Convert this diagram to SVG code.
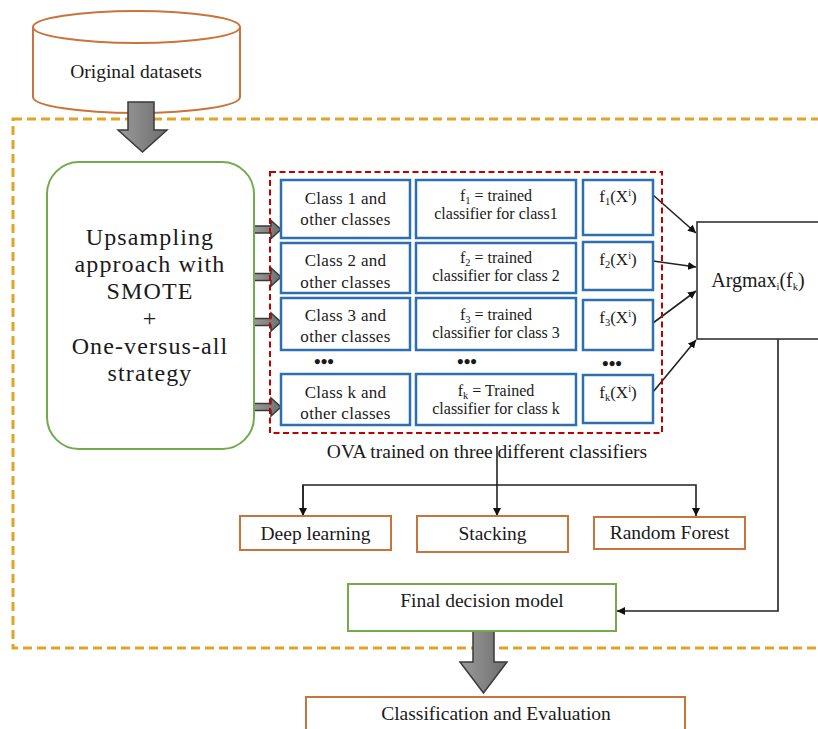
<svg xmlns="http://www.w3.org/2000/svg" width="818" height="729" viewBox="0 0 818 729" font-family="'Liberation Serif', 'Times New Roman', 'DejaVu Serif', serif">
<defs>
<linearGradient id="gray" x1="0" y1="0" x2="1" y2="0">
<stop offset="0" stop-color="#9a9a9a"/><stop offset="1" stop-color="#6e6e6e"/>
</linearGradient>
<marker id="ah" viewBox="0 0 10 10" refX="10" refY="5" markerWidth="8" markerHeight="8" markerUnits="userSpaceOnUse" orient="auto">
<path d="M0,0 L10,5 L0,10 z" fill="#111"/>
</marker>
<style>
text{fill:#1a1a1a;text-anchor:middle}
.blue{fill:#fff;stroke:#2e6fb0;stroke-width:2.5}
.orange{fill:#fff;stroke:#c8743c;stroke-width:2}
.green{fill:#fff;stroke:#74a94e;stroke-width:2}
.blk{fill:none;stroke:#222;stroke-width:1.6}
.garrow{fill:url(#gray);stroke:#3a3a3a;stroke-width:1.5}
.t15{font-size:17px;letter-spacing:0.3px}
.t16{font-size:16px}
.t17{font-size:17px}
.t18{font-size:19.5px}
.big{font-size:24px;letter-spacing:1.1px}
.sub{font-size:10.5px}
</style>
</defs>

<rect id="outer-region" x="13" y="119" width="830" height="529" fill="none" stroke="#e0a526" stroke-width="3" stroke-dasharray="9,5"/>

<g id="original-datasets">
<path d="M33,27 V97 A103.5,16 0 0 0 240,97 V27" class="orange" stroke-width="1.6"/>
<ellipse cx="136.5" cy="27" rx="103.5" ry="16" class="orange" stroke-width="1.6"/>
<text x="136" y="78" class="t18">Original datasets</text>
</g>

<g id="connectors">
<path class="garrow" d="M128,102 H154 V130 H167 L142.5,152 L118,130 H128 Z"/>
<path class="garrow" d="M254,226 H271 V220.5 L281,229.5 L271,238.5 V233 H254 Z"/>
<path class="garrow" d="M254,273.5 H271 V268 L281,277 L271,286 V280.5 H254 Z"/>
<path class="garrow" d="M254,318.5 H271 V313 L281,322 L271,331 V325.5 H254 Z"/>
<path class="garrow" d="M254,403.5 H271 V398 L281,407 L271,416 V410.5 H254 Z"/>
<line class="blk" x1="653" y1="195" x2="696" y2="233" marker-end="url(#ah)"/>
<line class="blk" x1="653" y1="261" x2="696" y2="267" marker-end="url(#ah)"/>
<line class="blk" x1="653" y1="323" x2="696" y2="291" marker-end="url(#ah)"/>
<line class="blk" x1="653" y1="392" x2="696" y2="340" marker-end="url(#ah)"/>
<path class="blk" d="M497,446 V516" marker-end="url(#ah)"/>
<path class="blk" d="M303,516 V485 H696 V516" marker-end="url(#ah)"/>
<path class="blk" d="M303,485 V516" marker-end="url(#ah)"/>
<path class="blk" d="M778,339 V611 H617" marker-end="url(#ah)"/>
<path class="garrow" d="M473,631 H494 V662 H507 L483.5,693 L460,662 H473 Z"/>
</g>

<g id="smote-ova">
<rect x="47" y="162" width="207" height="287" rx="32" class="green" stroke-width="1.8"/>
<text x="150" y="245" class="big">Upsampling</text>
<text x="150" y="272" class="big">approach with</text>
<text x="150" y="299" class="big">SMOTE</text>
<text x="150" y="326" class="big">+</text>
<text x="150" y="354" class="big">One-versus-all</text>
<text x="150" y="381" class="big">strategy</text>
</g>

<g id="ova-block">
<rect x="270" y="172" width="392" height="261" fill="none" stroke="#c00000" stroke-width="2" stroke-dasharray="6,3.5"/>
</g>

<g id="class1">
<rect x="281" y="180" width="129" height="58" class="blue"/>
<text x="345.5" y="204" class="t15">Class 1 and</text>
<text x="345.5" y="225" class="t15">other classes</text>
</g>
<g id="class2">
<rect x="281" y="243" width="129" height="50" class="blue"/>
<text x="345.5" y="266" class="t15">Class 2 and</text>
<text x="345.5" y="288" class="t15">other classes</text>
</g>
<g id="class3">
<rect x="281" y="298" width="129" height="52" class="blue"/>
<text x="345.5" y="321" class="t15">Class 3 and</text>
<text x="345.5" y="342" class="t15">other classes</text>
</g>
<g id="classk">
<rect x="281" y="374" width="129" height="51" class="blue"/>
<text x="345.5" y="398" class="t15">Class k and</text>
<text x="345.5" y="419" class="t15">other classes</text>
</g>

<g id="clf1">
<rect x="416" y="180" width="160" height="58" class="blue"/>
<text x="496" y="201" class="t16">f<tspan class="sub" dy="3">1</tspan><tspan dy="-3"> = trained</tspan></text>
<text x="496" y="219" class="t16">classifier for class1</text>
</g>
<g id="clf2">
<rect x="416" y="243" width="160" height="50" class="blue"/>
<text x="496" y="263" class="t16">f<tspan class="sub" dy="3">2</tspan><tspan dy="-3"> = trained</tspan></text>
<text x="496" y="281" class="t16">classifier for class 2</text>
</g>
<g id="clf3">
<rect x="416" y="298" width="160" height="52" class="blue"/>
<text x="496" y="320" class="t16">f<tspan class="sub" dy="3">3</tspan><tspan dy="-3"> = trained</tspan></text>
<text x="496" y="338" class="t16">classifier for class 3</text>
</g>
<g id="clfk">
<rect x="416" y="374" width="160" height="51" class="blue"/>
<text x="496" y="396" class="t16">f<tspan class="sub" dy="3">k</tspan><tspan dy="-3"> = Trained</tspan></text>
<text x="496" y="414" class="t16">classifier for class k</text>
</g>

<g id="out1">
<rect x="583" y="180" width="70" height="55" class="blue"/>
<text x="618" y="202" class="t17">f<tspan class="sub" dy="3">1</tspan><tspan dy="-3">(X</tspan><tspan class="sub" dy="-6">i</tspan><tspan dy="6">)</tspan></text>
</g>
<g id="out2">
<rect x="583" y="242" width="70" height="48" class="blue"/>
<text x="618" y="265" class="t17">f<tspan class="sub" dy="3">2</tspan><tspan dy="-3">(X</tspan><tspan class="sub" dy="-6">i</tspan><tspan dy="6">)</tspan></text>
</g>
<g id="out3">
<rect x="583" y="300" width="70" height="50" class="blue"/>
<text x="618" y="323" class="t17">f<tspan class="sub" dy="3">3</tspan><tspan dy="-3">(X</tspan><tspan class="sub" dy="-6">i</tspan><tspan dy="6">)</tspan></text>
</g>
<g id="outk">
<rect x="583" y="375" width="70" height="48" class="blue"/>
<text x="618" y="398" class="t17">f<tspan class="sub" dy="3">k</tspan><tspan dy="-3">(X</tspan><tspan class="sub" dy="-6">i</tspan><tspan dy="6">)</tspan></text>
</g>

<g id="dots" font-size="19px" font-weight="bold">
<text x="324" y="368">•••</text>
<text x="467" y="368">•••</text>
<text x="612" y="370">•••</text>
</g>

<g id="ova-label">
<text x="487" y="458" class="t18">OVA trained on three different classifiers</text>
</g>

<g id="argmax">
<rect x="697" y="222" width="140" height="117" fill="#fff" stroke="#333" stroke-width="1.6"/>
<text x="758" y="287" font-size="20px">Argmax<tspan class="sub" dy="3">i</tspan><tspan dy="-3">(f</tspan><tspan class="sub" dy="3">k</tspan><tspan dy="-3">)</tspan></text>
</g>

<g id="deep-learning">
<rect x="240" y="516" width="151" height="34" class="orange"/>
<text x="315.5" y="540" class="t18">Deep learning</text>
</g>
<g id="stacking">
<rect x="417" y="516" width="151" height="36" class="orange"/>
<text x="492.5" y="540" class="t18">Stacking</text>
</g>
<g id="random-forest">
<rect x="594" y="517" width="151" height="32" class="orange"/>
<text x="669.5" y="539" class="t18">Random Forest</text>
</g>

<g id="final-decision">
<rect x="348" y="584" width="268" height="47" class="green"/>
<text x="482" y="607" class="t18">Final decision model</text>
</g>

<g id="classification">
<rect x="306" y="697" width="379" height="50" class="orange"/>
<text x="496" y="720" class="t18">Classification and Evaluation</text>
</g>
</svg>
